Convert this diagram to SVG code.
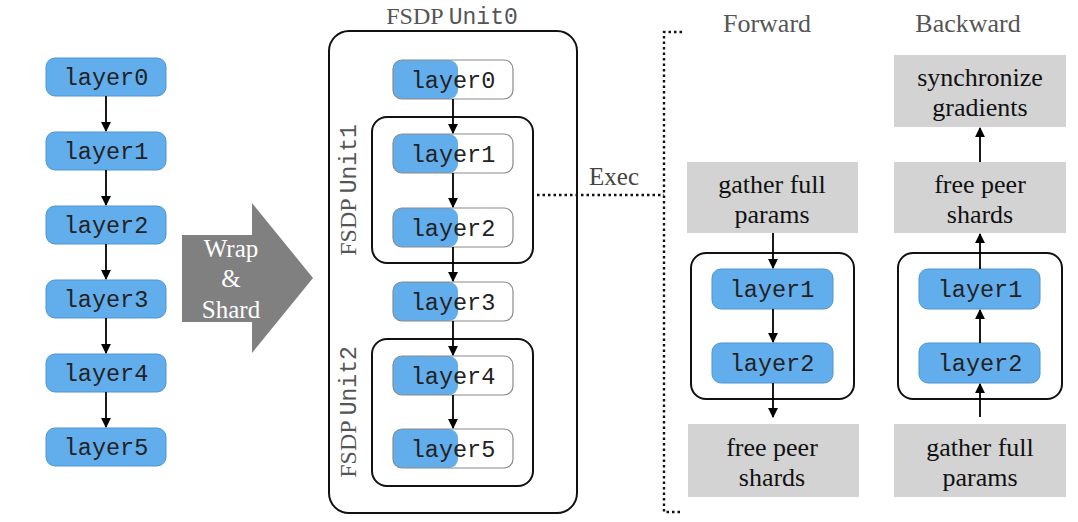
<svg xmlns="http://www.w3.org/2000/svg" width="1078" height="522" viewBox="0 0 1078 522">
<style>
.mono{font-family:"Liberation Mono","DejaVu Sans Mono",monospace;font-size:23.5px;fill:#222;text-anchor:middle}
.serif{font-family:"Liberation Serif","Times New Roman",serif;text-anchor:middle}
.lbl{font-size:24px;fill:#555;text-anchor:middle}
.box{font-size:26px;fill:#111}
.blue{fill:#62adec;stroke:#4f95d0;stroke-width:1}
.half{fill:none;stroke:#8a8a8a;stroke-width:1.2}
.unit{fill:none;stroke:#111;stroke-width:2}
.gray{fill:#d3d3d3}
.conn{stroke:#000;stroke-width:1.8;fill:none}
.dot{stroke:#111;stroke-width:2.4;fill:none;stroke-dasharray:2.5 3}
</style>
<defs>
<marker id="ah" viewBox="0 0 10 10" refX="9" refY="5" markerWidth="5.5" markerHeight="5.5" orient="auto">
<path d="M0,0 L10,5 L0,10 z" fill="#000"/>
</marker>
</defs>
<rect width="1078" height="522" fill="#fff"/>

<!-- left column -->
<g id="L0"><rect x="46" y="58" width="120" height="38" rx="9" class="blue" stroke="none"/><text x="106" y="85" class="mono">layer0</text></g>
<g id="L1"><rect x="46" y="132" width="120" height="38" rx="9" class="blue" stroke="none"/><text x="106" y="159" class="mono">layer1</text></g>
<g id="L2"><rect x="46" y="206" width="120" height="38" rx="9" class="blue" stroke="none"/><text x="106" y="233" class="mono">layer2</text></g>
<g id="L3"><rect x="46" y="280" width="120" height="38" rx="9" class="blue" stroke="none"/><text x="106" y="307" class="mono">layer3</text></g>
<g id="L4"><rect x="46" y="354" width="120" height="38" rx="9" class="blue" stroke="none"/><text x="106" y="381" class="mono">layer4</text></g>
<g id="L5"><rect x="46" y="428" width="120" height="38" rx="9" class="blue" stroke="none"/><text x="106" y="455" class="mono">layer5</text></g>

<!-- wrap & shard arrow -->
<g id="wrap">
<polygon points="182,235 252,235 252,203 313,278 252,353 252,322 182,322" fill="#808080"/>
<text x="231" y="257" class="serif" font-size="25" fill="#fff">Wrap</text>
<text x="231" y="287" class="serif" font-size="25" fill="#fff">&amp;</text>
<text x="231" y="318" class="serif" font-size="25" fill="#fff">Shard</text>
</g>

<!-- FSDP Unit0 -->
<g id="unit0">
<rect x="329" y="31" width="248" height="482" rx="20" class="unit"/>
<text x="452" y="24" class="lbl"><tspan style="font-family:'Liberation Serif','Times New Roman',serif">FSDP </tspan><tspan style="font-family:'Liberation Mono','Courier New',monospace;font-size:23px">Unit0</tspan></text>
</g>
<g id="unit1">
<rect x="372" y="117" width="161" height="146" rx="15" class="unit"/>
<text transform="translate(356,190) rotate(-90)" class="lbl"><tspan style="font-family:'Liberation Serif','Times New Roman',serif">FSDP </tspan><tspan style="font-family:'Liberation Mono','Courier New',monospace;font-size:23px">Unit1</tspan></text>
</g>
<g id="unit2">
<rect x="372" y="339" width="161" height="147" rx="15" class="unit"/>
<text transform="translate(356,412) rotate(-90)" class="lbl"><tspan style="font-family:'Liberation Serif','Times New Roman',serif">FSDP </tspan><tspan style="font-family:'Liberation Mono','Courier New',monospace;font-size:23px">Unit2</tspan></text>
</g>

<g id="M0"><rect x="393" y="60" width="65" height="39" rx="9" fill="#62adec"/><rect x="393" y="60" width="120" height="39" rx="9" class="half"/><text x="453" y="88" class="mono">layer0</text></g>
<g id="M1"><rect x="393" y="134" width="65" height="39" rx="9" fill="#62adec"/><rect x="393" y="134" width="120" height="39" rx="9" class="half"/><text x="453" y="162" class="mono">layer1</text></g>
<g id="M2"><rect x="393" y="208" width="65" height="39" rx="9" fill="#62adec"/><rect x="393" y="208" width="120" height="39" rx="9" class="half"/><text x="453" y="236" class="mono">layer2</text></g>
<g id="M3"><rect x="393" y="282" width="65" height="39" rx="9" fill="#62adec"/><rect x="393" y="282" width="120" height="39" rx="9" class="half"/><text x="453" y="310" class="mono">layer3</text></g>
<g id="M4"><rect x="393" y="356" width="65" height="39" rx="9" fill="#62adec"/><rect x="393" y="356" width="120" height="39" rx="9" class="half"/><text x="453" y="384" class="mono">layer4</text></g>
<g id="M5"><rect x="393" y="429" width="65" height="39" rx="9" fill="#62adec"/><rect x="393" y="429" width="120" height="39" rx="9" class="half"/><text x="453" y="457" class="mono">layer5</text></g>

<!-- titles -->
<text x="767" y="32" class="serif" font-size="26" fill="#555">Forward</text>
<text x="968" y="32" class="serif" font-size="26" fill="#555">Backward</text>
<text x="614" y="185" class="serif" font-size="25" fill="#444">Exec</text>

<!-- forward -->
<g id="Fg"><rect x="687" y="162" width="171" height="71" class="gray"/><text x="772" y="193" class="serif box">gather full</text><text x="772" y="223" class="serif box">params</text></g>
<g id="Funit"><rect x="691" y="253" width="163" height="146" rx="15" class="unit"/></g>
<g id="F1"><rect x="712" y="269" width="121" height="40" rx="9" class="blue"/><text x="772" y="297" class="mono">layer1</text></g>
<g id="F2"><rect x="712" y="343" width="121" height="40" rx="9" class="blue"/><text x="772" y="371" class="mono">layer2</text></g>
<g id="Ff"><rect x="688" y="424" width="171" height="73" class="gray"/><text x="772" y="456" class="serif box">free peer</text><text x="772" y="486" class="serif box">shards</text></g>

<!-- backward -->
<g id="Bs"><rect x="894" y="55" width="172" height="72" class="gray"/><text x="980" y="86" class="serif box">synchronize</text><text x="980" y="116" class="serif box">gradients</text></g>
<g id="Bf"><rect x="894" y="162" width="172" height="71" class="gray"/><text x="980" y="193" class="serif box">free peer</text><text x="980" y="223" class="serif box">shards</text></g>
<g id="Bunit"><rect x="898" y="253" width="164" height="146" rx="15" class="unit"/></g>
<g id="B1"><rect x="919" y="269" width="121" height="40" rx="9" class="blue"/><text x="980" y="297" class="mono">layer1</text></g>
<g id="B2"><rect x="919" y="343" width="121" height="40" rx="9" class="blue"/><text x="980" y="371" class="mono">layer2</text></g>
<g id="Bg"><rect x="894" y="424" width="172" height="73" class="gray"/><text x="980" y="456" class="serif box">gather full</text><text x="980" y="486" class="serif box">params</text></g>

<!-- connectors -->
<g id="connectors">
<line x1="106" y1="96" x2="106" y2="131" class="conn" marker-end="url(#ah)"/>
<line x1="106" y1="170" x2="106" y2="205" class="conn" marker-end="url(#ah)"/>
<line x1="106" y1="244" x2="106" y2="279" class="conn" marker-end="url(#ah)"/>
<line x1="106" y1="318" x2="106" y2="353" class="conn" marker-end="url(#ah)"/>
<line x1="106" y1="392" x2="106" y2="427" class="conn" marker-end="url(#ah)"/>

<line x1="453" y1="99" x2="453" y2="133" class="conn" marker-end="url(#ah)"/>
<line x1="453" y1="173" x2="453" y2="207" class="conn" marker-end="url(#ah)"/>
<line x1="453" y1="247" x2="453" y2="281" class="conn" marker-end="url(#ah)"/>
<line x1="453" y1="321" x2="453" y2="355" class="conn" marker-end="url(#ah)"/>
<line x1="453" y1="395" x2="453" y2="428" class="conn" marker-end="url(#ah)"/>

<line x1="773" y1="233" x2="773" y2="268" class="conn" marker-end="url(#ah)"/>
<line x1="773" y1="309" x2="773" y2="342" class="conn" marker-end="url(#ah)"/>
<line x1="773" y1="383" x2="773" y2="417" class="conn" marker-end="url(#ah)"/>

<line x1="980" y1="417" x2="980" y2="384" class="conn" marker-end="url(#ah)"/>
<line x1="980" y1="343" x2="980" y2="310" class="conn" marker-end="url(#ah)"/>
<line x1="980" y1="269" x2="980" y2="234" class="conn" marker-end="url(#ah)"/>
<line x1="980" y1="162" x2="980" y2="128" class="conn" marker-end="url(#ah)"/>

<path d="M537,195 H664" class="dot"/>
<path d="M682,32 H664 V512 H682" class="dot"/>
</g>
</svg>
